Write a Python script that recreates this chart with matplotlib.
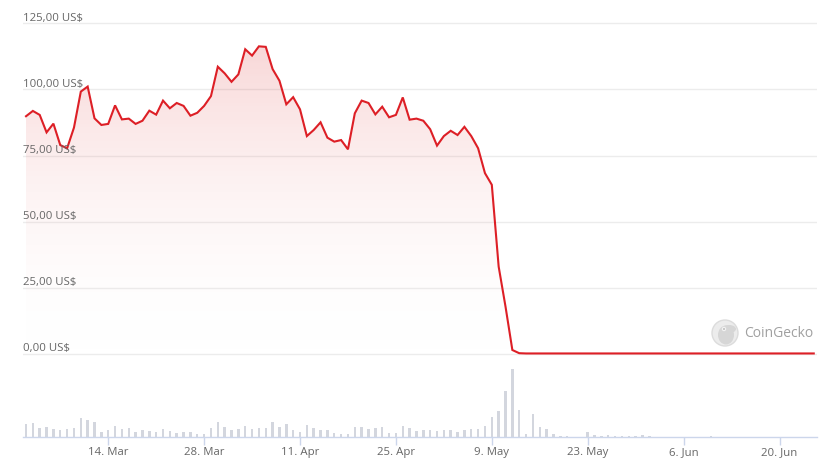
import numpy as np
import pandas as pd
import matplotlib
matplotlib.use("Agg")
import matplotlib.pyplot as plt
import matplotlib.dates as mdates
from matplotlib.patches import Circle, Ellipse
from matplotlib.colors import LinearSegmentedColormap

plt.rcParams['font.family'] = ['Open Sans', 'DejaVu Sans']

# ---------------- data ----------------
dates = pd.date_range("2022-03-02", "2022-06-25", freq="D")

price = [
    89.9, 91.9, 90.4, 83.8, 87.1, 79.0, 77.8, 85.6, 99.2, 101.1,
    89.1, 86.6, 87.0, 94.0, 88.7, 89.0, 87.0, 88.2, 92.0, 90.5,
    95.8, 92.9, 94.9, 93.8, 90.1, 91.2, 93.8, 97.5, 108.6, 106.1,
    102.9, 105.7, 115.2, 112.8, 116.3, 116.1, 107.7, 103.3, 94.4, 97.1,
    92.5, 82.4, 84.7, 87.6, 81.8, 80.3, 80.9, 77.4, 91.0, 95.8,
    94.9, 90.6, 93.5, 89.5, 90.4, 97.0, 88.6, 89.0, 88.2, 85.0,
    78.8, 82.4, 84.4, 82.8, 85.9, 82.4, 77.8, 68.4, 64.0, 33.1,
    18.0, 1.6, 0.4, 0.3, 0.3, 0.3, 0.3, 0.3, 0.3, 0.3,
    0.3, 0.3, 0.3, 0.3, 0.3, 0.3, 0.3, 0.3, 0.3, 0.3,
    0.3, 0.3, 0.3, 0.3, 0.3, 0.3, 0.3, 0.3, 0.3, 0.3,
    0.3, 0.3, 0.3, 0.3, 0.3, 0.3, 0.3, 0.3, 0.3, 0.3,
    0.3, 0.3, 0.3, 0.3, 0.3, 0.3,
]

volume = [
    38, 41, 26, 29, 22, 20, 22, 26, 56, 50,
    44, 14, 20, 32, 23, 26, 14, 20, 16, 14,
    22, 17, 11, 15, 14, 8, 8, 26, 44, 29,
    20, 23, 32, 23, 26, 26, 44, 29, 38, 20,
    14, 35, 26, 20, 20, 11, 8, 8, 29, 29,
    23, 26, 29, 11, 11, 32, 26, 16, 20, 20,
    16, 20, 20, 14, 20, 23, 23, 32, 58, 77,
    137, 200, 80, 8, 68, 29, 23, 8, 3, 3,
    0.5, 0.5, 14, 6, 1, 6, 1, 1, 1, 1,
    5, 3, 0.5, 0.5, 0.5, 0.5, 0.5, 0.5, 0.5, 0.5,
    3, 0.5, 0.5, 0.5, 0.5, 0.5, 0.5, 0.5, 0.5, 0.5,
    0.5, 0.5, 0.5, 0.5, 0.5, 0.5,
]

y_ticks = [0, 25, 50, 75, 100, 125]
y_labels = ["0,00 US$", "25,00 US$", "50,00 US$", "75,00 US$", "100,00 US$", "125,00 US$"]
x_tick_dates = ["2022-03-14", "2022-03-28", "2022-04-11", "2022-04-25",
                "2022-05-09", "2022-05-23", "2022-06-06", "2022-06-20"]
x_tick_labels = ["14. Mar", "28. Mar", "11. Apr", "25. Apr",
                 "9. May", "23. May", "6. Jun", "20. Jun"]

# ---------------- figure ----------------
W, H = 835, 472
fig = plt.figure(figsize=(W / 100, H / 100), dpi=100)

def frac_box(left_px, top_px, right_px, bottom_px):
    return [left_px / W, 1 - bottom_px / H, (right_px - left_px) / W, (bottom_px - top_px) / H]

xnum = mdates.date2num(dates)
day = xnum[1] - xnum[0]
x_left = xnum[0] - 0.44 * day
x_right = xnum[-1] + 0.4 * day

LINE = "#dd1f26"
GRID = "#ececec"
TXT = "#666666"
AXC = "#ccd6eb"

# price axes
ax = fig.add_axes(frac_box(23, 20.65, 816.5, 356.9))
ax.set_xlim(x_left, x_right)
ax.set_ylim(-1, 126)
for s in ax.spines.values():
    s.set_visible(False)
ax.set_xticks([])
ax.set_yticks([])
for v in y_ticks:
    ax.axhline(v, color=GRID, lw=1, zorder=0)

# gradient fill under line
pmax = max(price)
cmap = LinearSegmentedColormap.from_list(
    "g", [(1, 1, 1, 0.0), (0.86, 0.15, 0.15, 0.18)])
grad = np.linspace(0, 1, 256).reshape(-1, 1) ** 0.9
im = ax.imshow(grad, extent=[x_left, x_right, 0, pmax], origin="lower",
               aspect="auto", cmap=cmap, zorder=1)
poly = ax.fill_between(xnum, 0, price, color="none", lw=0)
path = poly.get_paths()[0]
im.set_clip_path(path, transform=ax.transData)

ax.plot(xnum, price, color=LINE, lw=1.5, zorder=3, solid_joinstyle="miter",
        clip_on=False)

for v, lab in zip(y_ticks, y_labels):
    ax.annotate(lab, xy=(0, v), xycoords=("axes fraction", "data"),
                xytext=(0, 2), textcoords="offset points",
                ha="left", va="baseline", fontsize=8.2, color=TXT, zorder=4)

# CoinGecko watermark
lx, ly = 725, 333
logo_ax = fig.add_axes([0, 0, 1, 1], facecolor="none")
logo_ax.set_xlim(0, W)
logo_ax.set_ylim(H, 0)
logo_ax.axis("off")
logo_ax.add_patch(Circle((lx, ly), 13, facecolor="#ececec", edgecolor="#dcdcdc", lw=1))
logo_ax.add_patch(Ellipse((lx + 1, ly + 2), 16, 19, facecolor="#d6d6d6", edgecolor="none"))
logo_ax.add_patch(Ellipse((lx + 4, ly - 4), 14, 8, facecolor="#d6d6d6", edgecolor="none"))
logo_ax.add_patch(Circle((lx - 1, ly - 4), 2.2, facecolor="#f2f2f2", edgecolor="none"))
logo_ax.add_patch(Circle((lx - 1, ly - 4), 1.0, facecolor="#bdbdbd", edgecolor="none"))
logo_ax.text(744, ly + 0.5, "CoinGecko", ha="left", va="center",
             fontsize=10, color="#a0a0a0")

# volume axes
vax = fig.add_axes(frac_box(23, 366, 816.5, 436.7))
vax.set_xlim(x_left, x_right)
vax.set_ylim(0, 200 * 70.7 / 67.4)
vax.bar(xnum, volume, width=0.36 * day, color="#d3d6de", zorder=2)
for k, s in vax.spines.items():
    s.set_visible(k == "bottom")
vax.spines["bottom"].set_color(AXC)
vax.spines["bottom"].set_linewidth(1)
vax.set_yticks([])
tick_nums = mdates.date2num(pd.to_datetime(x_tick_dates))
vax.set_xticks(tick_nums)
vax.set_xticklabels(x_tick_labels)
vax.tick_params(axis="x", length=6, width=1, color=AXC, pad=1.5,
                labelsize=8.2, labelcolor=TXT)

fig.savefig("out.png", dpi=100)
